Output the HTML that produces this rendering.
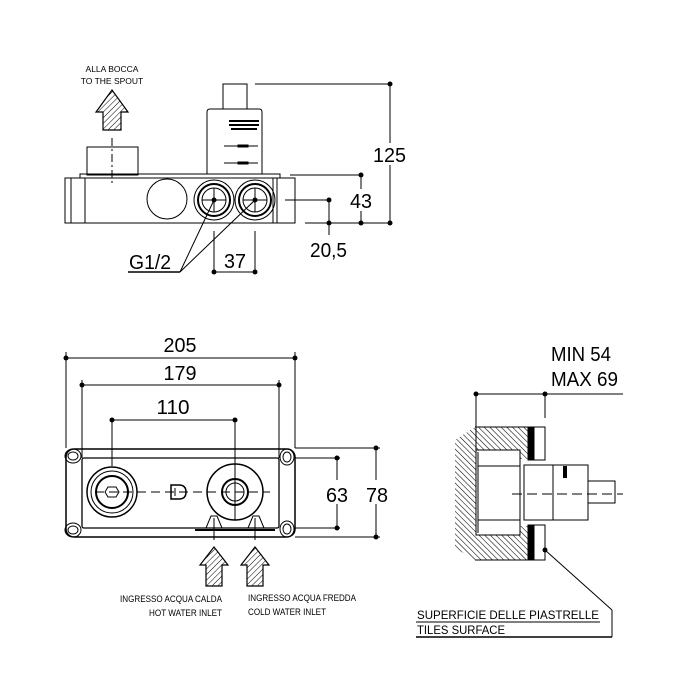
<!DOCTYPE html>
<html><head><meta charset="utf-8"><style>
html,body{margin:0;padding:0;background:#fff}
svg{display:block}
text{font-family:"Liberation Sans",sans-serif;fill:#000}
</style></head><body>
<svg width="700" height="700" viewBox="0 0 700 700" xmlns="http://www.w3.org/2000/svg">
<defs>
<pattern id="h" width="4" height="4" patternUnits="userSpaceOnUse" patternTransform="rotate(45)">
<line x1="0" y1="0" x2="0" y2="4" stroke="#000" stroke-width="1"/>
</pattern>
<pattern id="h2" width="4" height="4" patternUnits="userSpaceOnUse" patternTransform="rotate(-45)">
<line x1="0" y1="0" x2="0" y2="4" stroke="#000" stroke-width="1.1"/>
</pattern>
</defs>
<g fill="none" stroke="#000" stroke-width="1">
<!-- TOP VIEW -->
<path d="M103,130 V112 H96 L112,90 L128,112 H121 V130 Z" fill="url(#h)" stroke-width="1.2"/>
<line x1="112" y1="138" x2="112" y2="184" stroke-dasharray="8,3,2,3"/>
<rect x="87" y="147" width="51" height="28"/>
<rect x="65" y="178" width="230" height="45"/>
<rect x="80" y="174" width="200" height="4"/>
<line x1="71" y1="178" x2="71" y2="223"/>
<line x1="85" y1="178" x2="85" y2="223"/>
<line x1="273" y1="178" x2="273" y2="223"/>
<line x1="277" y1="178" x2="277" y2="223"/>
<path d="M207,174 V112 Q207,109 210,109 H259 Q262,109 262,112 V174"/>
<rect x="223" y="84" width="24" height="25"/>
<g stroke-width="2"><line x1="229" y1="121" x2="259" y2="121"/><line x1="229" y1="125" x2="259" y2="125"/><line x1="231" y1="129" x2="257" y2="129"/></g>
<line x1="224" y1="146" x2="258" y2="146"/><rect x="238" y="145" width="10" height="2" fill="#000"/>
<line x1="224" y1="163" x2="258" y2="163"/><rect x="238" y="162" width="10" height="2" fill="#000"/>
<circle cx="167" cy="199" r="20"/>
<circle cx="214" cy="200" r="20"/><circle cx="214" cy="200" r="16" stroke-width="2"/><circle cx="214" cy="200" r="12"/>
<circle cx="255" cy="200" r="20"/><circle cx="255" cy="200" r="16" stroke-width="2"/><circle cx="255" cy="200" r="12"/>
<line x1="202" y1="200" x2="226" y2="200"/><line x1="214" y1="188" x2="214" y2="212"/>
<line x1="243" y1="200" x2="267" y2="200"/><line x1="255" y1="188" x2="255" y2="212"/>
<!-- dims top -->
<line x1="255" y1="84" x2="390" y2="84"/><line x1="390" y1="84" x2="390" y2="223"/>
<line x1="290" y1="175" x2="361" y2="175"/><line x1="361" y1="175" x2="361" y2="223"/>
<line x1="285" y1="200" x2="329" y2="200"/><line x1="329" y1="200" x2="329" y2="235"/>
<line x1="305" y1="223" x2="390" y2="223"/>
<line x1="214" y1="231" x2="214" y2="274"/><line x1="255" y1="231" x2="255" y2="274"/>
<line x1="214" y1="272" x2="255" y2="272"/>
<line x1="128" y1="272" x2="180" y2="272" stroke-width="1.5"/>
<line x1="180" y1="272" x2="214" y2="200"/><line x1="180" y1="272" x2="255" y2="200"/>
</g>
<g fill="#000">
<circle cx="390" cy="84" r="2.5"/><circle cx="390" cy="223" r="2.5"/>
<circle cx="361" cy="175" r="2.5"/><circle cx="361" cy="223" r="2.5"/>
<circle cx="329" cy="200" r="2.5"/><circle cx="329" cy="223" r="2.5"/>
<circle cx="214" cy="272" r="2.5"/><circle cx="255" cy="272" r="2.5"/>
<circle cx="214" cy="200" r="2.5"/><circle cx="255" cy="200" r="2.5"/>
</g>
<g fill="#fff">
<rect x="373" y="143" width="33" height="22"/><rect x="349" y="189" width="24" height="22"/>
<rect x="325" y="480" width="24" height="24"/><rect x="365" y="480" width="24" height="24"/>
</g>
<text x="112" y="72" font-size="8.5" text-anchor="middle">ALLA BOCCA</text>
<text x="112" y="84" font-size="8.5" text-anchor="middle">TO THE SPOUT</text>
<text x="373" y="162" font-size="20" textLength="33" lengthAdjust="spacingAndGlyphs">125</text>
<text x="350" y="208" font-size="20" textLength="22" lengthAdjust="spacingAndGlyphs">43</text>
<text x="310" y="257" font-size="20" textLength="37" lengthAdjust="spacingAndGlyphs">20,5</text>
<text x="224" y="268" font-size="20" textLength="22" lengthAdjust="spacingAndGlyphs">37</text>
<text x="129" y="269" font-size="20" textLength="42" lengthAdjust="spacingAndGlyphs">G1/2</text>

<!-- FRONT VIEW -->
<g fill="none" stroke="#000" stroke-width="1">
<line x1="66" y1="352" x2="66" y2="448"/><line x1="295" y1="352" x2="295" y2="448"/>
<line x1="66" y1="358" x2="295" y2="358"/>
<line x1="82" y1="380" x2="82" y2="458"/><line x1="279" y1="380" x2="279" y2="458"/>
<line x1="82" y1="385" x2="279" y2="385"/>
<line x1="112" y1="420" x2="112" y2="466"/><line x1="235" y1="420" x2="235" y2="520"/>
<line x1="112" y1="420" x2="235" y2="420"/>
<rect x="66" y="449" width="229" height="88" rx="8" stroke-width="1.5"/>
<rect x="82" y="458" width="197" height="70" rx="2" stroke-width="1.3"/>
<ellipse cx="73" cy="456" rx="5" ry="4"/><ellipse cx="73" cy="456" rx="8" ry="7"/>
<ellipse cx="287" cy="457" rx="4" ry="5"/><ellipse cx="287" cy="457" rx="7" ry="8"/>
<ellipse cx="73" cy="530" rx="5" ry="4"/><ellipse cx="73" cy="530" rx="8" ry="7"/>
<ellipse cx="287" cy="529" rx="4" ry="5"/><ellipse cx="287" cy="529" rx="7" ry="8"/>
<circle cx="112" cy="492" r="25" stroke-width="1.5"/><circle cx="112" cy="492" r="21" stroke-width="1"/><circle cx="112" cy="492" r="16" stroke-width="2"/>
<path d="M108,487 h8 l3,5 l-3,5 h-8 l-3,-5 z"/>
<line x1="95" y1="492" x2="270" y2="492" stroke-dasharray="9,5"/>
<path d="M171,485 h8 q7,0 7,7 q0,7 -7,7 h-8 z" stroke-width="1.5"/>
<line x1="175" y1="488" x2="175" y2="496"/>
<circle cx="235" cy="492" r="28" stroke-width="1.5"/><circle cx="235" cy="492" r="13" stroke-width="2"/><circle cx="235" cy="492" r="9"/>
<path d="M206,528 l5,-12 h6 l5,12"/><path d="M248,528 l5,-12 h6 l5,12"/>
<line x1="195" y1="530" x2="275" y2="530" stroke-width="2"/>
<line x1="295" y1="458" x2="340" y2="458"/><line x1="295" y1="528" x2="340" y2="528"/>
<line x1="337" y1="458" x2="337" y2="480"/><line x1="337" y1="504" x2="337" y2="528"/>
<line x1="295" y1="448" x2="380" y2="448"/><line x1="295" y1="537" x2="380" y2="537"/>
<line x1="376" y1="448" x2="376" y2="480"/><line x1="376" y1="504" x2="376" y2="537"/>
<line x1="214" y1="518" x2="214" y2="540"/><line x1="255" y1="518" x2="255" y2="540"/>
<path d="M206,586 V565 H200 L214,547 L228,565 H222 V586 Z" fill="url(#h)" stroke-width="1.2"/>
<path d="M247,586 V565 H241 L255,547 L269,565 H263 V586 Z" fill="url(#h)" stroke-width="1.2"/>
</g>
<g fill="#000">
<circle cx="66" cy="358" r="2.5"/><circle cx="295" cy="358" r="2.5"/>
<circle cx="82" cy="385" r="2.5"/><circle cx="279" cy="385" r="2.5"/>
<circle cx="112" cy="420" r="2.5"/><circle cx="235" cy="420" r="2.5"/>
<circle cx="337" cy="458" r="2.5"/><circle cx="337" cy="528" r="2.5"/>
<circle cx="376" cy="448" r="2.5"/><circle cx="376" cy="537" r="2.5"/>
</g>
<text x="180" y="352" font-size="20" text-anchor="middle" textLength="33" lengthAdjust="spacingAndGlyphs">205</text>
<text x="180" y="380" font-size="20" text-anchor="middle" textLength="33" lengthAdjust="spacingAndGlyphs">179</text>
<text x="173" y="414" font-size="20" text-anchor="middle" textLength="33" lengthAdjust="spacingAndGlyphs">110</text>
<text x="326" y="502" font-size="20" textLength="22" lengthAdjust="spacingAndGlyphs">63</text>
<text x="366" y="502" font-size="20" textLength="22" lengthAdjust="spacingAndGlyphs">78</text>
<text x="222" y="602" font-size="9" text-anchor="end" textLength="102" lengthAdjust="spacingAndGlyphs">INGRESSO ACQUA CALDA</text>
<text x="222" y="616" font-size="9" text-anchor="end" textLength="73" lengthAdjust="spacingAndGlyphs">HOT WATER INLET</text>
<text x="248" y="601" font-size="9" textLength="108" lengthAdjust="spacingAndGlyphs">INGRESSO ACQUA FREDDA</text>
<text x="248" y="615" font-size="9" textLength="78" lengthAdjust="spacingAndGlyphs">COLD WATER INLET</text>

<!-- SIDE VIEW -->
<text x="551" y="361" font-size="20" textLength="60" lengthAdjust="spacingAndGlyphs">MIN 54</text>
<text x="551" y="386" font-size="20" textLength="67" lengthAdjust="spacingAndGlyphs">MAX 69</text>
<g fill="none" stroke="#000" stroke-width="1">
<line x1="476" y1="394" x2="623" y2="394"/>
<line x1="476" y1="394" x2="476" y2="450"/><line x1="545" y1="394" x2="545" y2="418"/>
<path d="M455,440 L475,427 H528 V459 H520 V450 H476 V535 H520 V526 H528 V560 H475 L455,548 Z" fill="url(#h2)" stroke="none"/>
<path d="M475,427 H528 V459 M528,526 V560 H475 M476,450 H520 V535 H476 Z"/>
<rect x="528" y="427" width="6" height="33" fill="#000"/>
<rect x="528" y="525" width="6" height="35" fill="#000"/>
<rect x="534" y="427" width="11" height="33"/>
<rect x="534" y="525" width="11" height="35"/>
<line x1="478" y1="466" x2="520" y2="466"/><line x1="478" y1="520" x2="520" y2="520"/>
<line x1="478" y1="452" x2="478" y2="533"/>
<rect x="524" y="465" width="29" height="55"/>
<path d="M553,465 H588 V520 H553"/>
<rect x="588" y="481" width="27" height="22"/>
<line x1="565" y1="466" x2="565" y2="478" stroke-width="4"/>
<line x1="512" y1="494" x2="623" y2="494" stroke-dasharray="10,5"/>
<line x1="545" y1="550" x2="612" y2="610"/><line x1="612" y1="610" x2="612" y2="637"/>
<line x1="416" y1="622" x2="600" y2="622"/>
<line x1="416" y1="637" x2="612" y2="637" stroke-width="1.5"/>
</g>
<g fill="#000">
<circle cx="476" cy="394" r="2.5"/><circle cx="545" cy="394" r="2.5"/><circle cx="545" cy="550" r="2.5"/>
</g>
<text x="417" y="619" font-size="12" textLength="182" lengthAdjust="spacingAndGlyphs">SUPERFICIE DELLE PIASTRELLE</text>
<text x="417" y="634" font-size="12" textLength="88" lengthAdjust="spacingAndGlyphs">TILES SURFACE</text>
</svg>
</body></html>
